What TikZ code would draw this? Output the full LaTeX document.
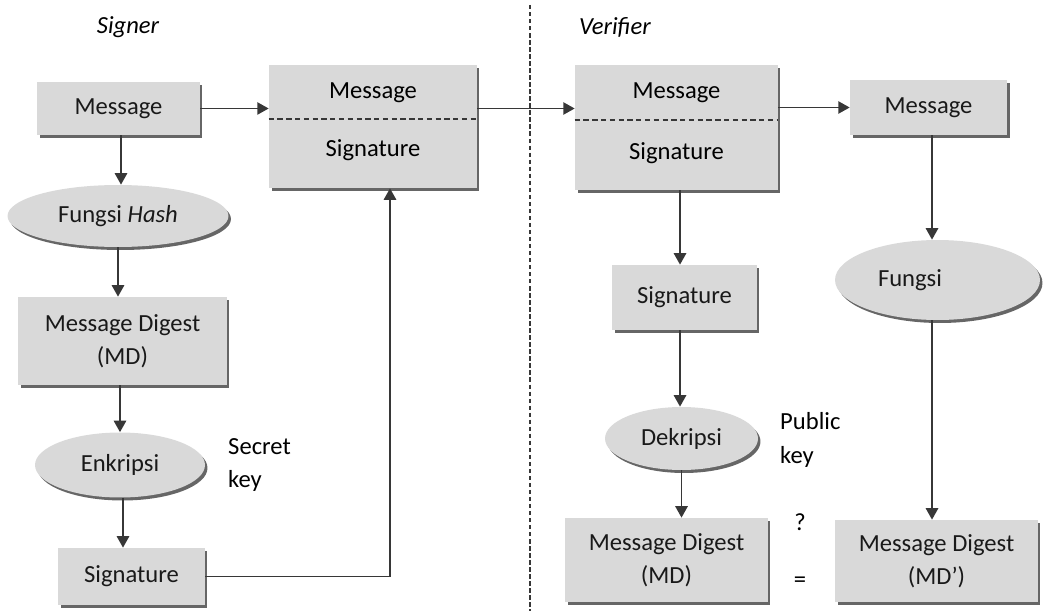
\documentclass[tikz,border=0pt]{standalone}
\usepackage{fontspec}
\setmainfont{Carlito}
\usetikzlibrary{shapes.geometric,shadows,arrows.meta}

\definecolor{boxgray}{RGB}{217,217,217}
\definecolor{linegray}{RGB}{55,55,55}

\tikzset{
  box/.style={rectangle, fill=boxgray, text=black!90, align=center,
    drop shadow={shadow xshift=0.05cm, shadow yshift=-0.06cm, fill=black, opacity=0.6}},
  oval/.style={ellipse, fill=boxgray, text=black!90, align=center,
    drop shadow={shadow xshift=0.05cm, shadow yshift=-0.06cm, fill=black, opacity=0.6}},
  flow/.style={-{Triangle[length=6.5pt,width=7pt]}, draw=linegray, line width=1pt},
  divider/.style={draw=linegray, line width=0.9pt, dash pattern=on 3pt off 2pt},
}

\begin{document}
\begin{tikzpicture}[x=0.02cm, y=-0.02cm, font=\fontsize{14}{19}\selectfont]
    \useasboundingbox (0,0) rectangle (1064,611);

    % signer side
    \node (signer) at (128,27) {\itshape Signer};
    \node[box, minimum width=3.26cm, minimum height=1.06cm] (msgA) at (118.5,108.5) {Message};
    \node[oval, minimum width=4.42cm, minimum height=1.24cm] (hash) at (118,216) {Fungsi \textit{Hash}};
    \node[box, minimum width=4.18cm, minimum height=1.76cm] (mdA) at (122.5,341) {Message Digest\\(MD)};
    \node[oval, minimum width=3.4cm, minimum height=1.3cm] (enc) at (120,465) {Enkripsi};
    \node[anchor=west, align=left] (secret) at (222,465) {Secret\\key};
    \node[box, minimum width=2.94cm, minimum height=1.14cm] (sigA) at (131.5,576.5) {Signature};

    % message + signature that is sent
    \node[box, minimum width=4.16cm, minimum height=2.46cm] (pairA) at (373,126.5) {};
    \node (pairAmsg) at (373,93) {Message};
    \node (pairAsig) at (373,150) {Signature};
    \draw[divider] (pairA.west |- 0,119) -- (pairA.east |- 0,119);

    \draw[flow] ([xshift=0.05cm]msgA.south) -- ([xshift=0.05cm]msgA.south |- hash.north);
    \draw[flow] (hash.south) -- (hash.south |- mdA.north);
    \draw[flow] (mdA.south -| enc.north) -- (enc.north);
    \draw[flow] ([xshift=0.06cm]enc.south) -- ([xshift=0.06cm]enc.south |- sigA.north);
    \draw[flow] (msgA.east) -- (msgA.east -| pairA.west);
    \draw[flow] (sigA.east) -| ([xshift=0.34cm]pairA.south);

    % boundary between both sides
    \draw[draw=linegray, line width=1pt, dash pattern=on 2.5pt off 1.5pt] (530,5) -- (530,611);

    % verifier side
    \node (verifier) at (615,27) {\itshape Verifier};
    \node[box, minimum width=4.06cm, minimum height=2.5cm] (pairB) at (676.5,127.5) {};
    \node (pairBmsg) at (676.5,93) {Message};
    \node (pairBsig) at (676.5,153) {Signature};
    \draw[divider] (pairB.west |- 0,120) -- (pairB.east |- 0,120);

    \node[box, minimum width=3.14cm, minimum height=1.1cm] (msgB) at (928.5,107.5) {Message};
    \node[oval, minimum width=4.1cm, minimum height=1.6cm, text width=2.38cm, align=left] (fungsi) at (937.5,280) {Fungsi};
    \node[box, minimum width=4.06cm, minimum height=1.64cm] (mdC) at (936.5,561) {Message Digest\\(MD')};

    \node[box, minimum width=2.9cm, minimum height=1.3cm] (sigB) at (684.5,297.5) {Signature};
    \node[oval, minimum width=3.06cm, minimum height=1.26cm] (dec) at (681.5,438.5) {Dekripsi};
    \node[anchor=west, align=left] (public) at (774,440) {Public\\key};
    \node[box, minimum width=4.06cm, minimum height=1.68cm] (mdB) at (666.5,560) {Message Digest\\(MD)};

    \node (ask) at (800,522) {?};
    \node (equal) at (800,582) {=};

    \draw[flow] (msgA.east -| pairA.east) -- (msgA.east -| pairB.west);
    \draw[flow] (msgB.west -| pairB.east) -- (msgB.west);
    \draw[flow] ([xshift=0.07cm]msgB.south) -- ([xshift=0.07cm]msgB.south |- fungsi.north);
    \draw[flow] ([xshift=0.07cm]msgB.south |- fungsi.south) -- ([xshift=0.07cm]msgB.south |- mdC.north);
    \draw[flow] ([xshift=0.07cm]pairB.south) -- ([xshift=0.07cm]pairB.south |- sigB.north);
    \draw[flow] ([xshift=0.07cm]pairB.south |- sigB.south) -- ([xshift=0.07cm]pairB.south |- dec.north);
    \draw[flow] (dec.south) -- (dec.south |- mdB.north);
\end{tikzpicture}
\end{document}
